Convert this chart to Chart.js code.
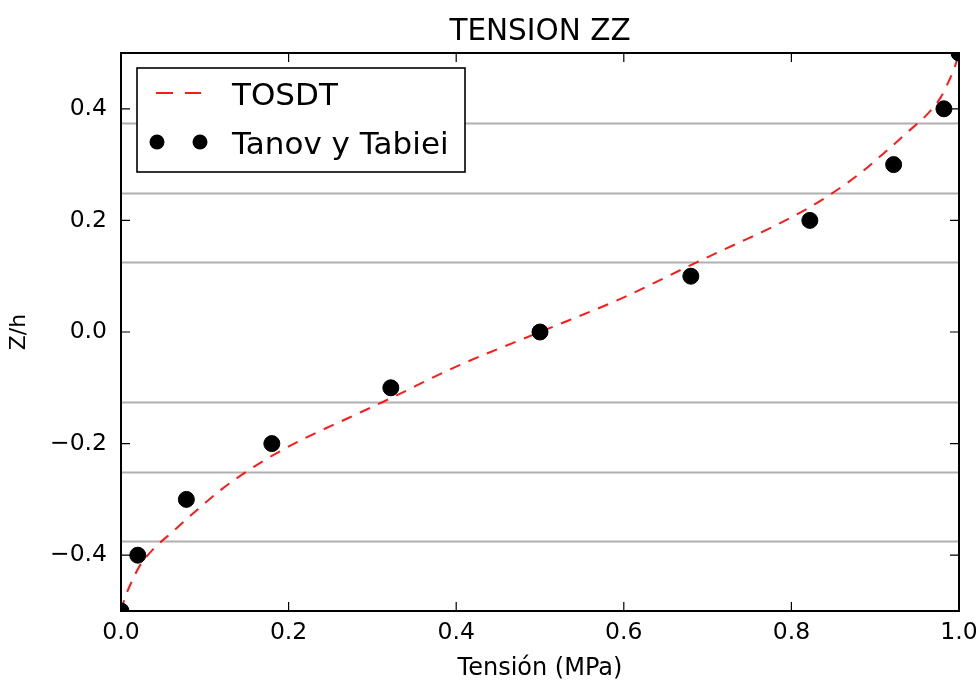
<!DOCTYPE html>
<html>
<head>
<meta charset="utf-8">
<script src="https://cdn.jsdelivr.net/npm/chart.js@4.4.1/dist/chart.umd.min.js"></script>
<style>
html,body{margin:0;padding:0;background:#fff;}
#wrap{width:976px;height:684px;position:relative;}
</style>
</head>
<body>
<div id="wrap"><canvas id="c" width="976" height="684"></canvas></div>
<script>
// ---- data ----
const tosdtX = [0.000, 0.005, 0.012, 0.022, 0.038, 0.060, 0.090, 0.120, 0.150, 0.180, 0.220, 0.270, 0.320, 0.400, 0.500, 0.600, 0.680, 0.730, 0.780, 0.820, 0.850, 0.880, 0.910, 0.940, 0.962, 0.978, 0.988, 0.995, 1.000];
const tosdtY = [-0.500, -0.475, -0.450, -0.420, -0.390, -0.360, -0.320, -0.282, -0.250, -0.222, -0.190, -0.155, -0.120, -0.062, 0.000, 0.062, 0.120, 0.155, 0.190, 0.222, 0.250, 0.282, 0.320, 0.360, 0.390, 0.420, 0.450, 0.475, 0.500];
const tanovX = [0.000, 0.020, 0.078, 0.180, 0.322, 0.500, 0.680, 0.822, 0.922, 0.982, 1.000];
const tanovY = [-0.5, -0.4, -0.3, -0.2, -0.1, 0.0, 0.1, 0.2, 0.3, 0.4, 0.5];
const layerInterfaces = [-0.375, -0.25, -0.125, 0.125, 0.25, 0.375];
const xTicks = [0.0, 0.2, 0.4, 0.6, 0.8, 1.0];
const yTicks = [-0.4, -0.2, 0.0, 0.2, 0.4];
const seriesNames = ['TOSDT', 'Tanov y Tabiei'];
const titleText = 'TENSION ZZ';
const xLabel = 'Tensión (MPa)';
const yLabel = 'Z/h';

const FONT = 'DejaVu Sans';
const fmt = v => (v < 0 ? '\u2212' : '') + Math.abs(v).toFixed(1);

const framePlugin = {
  id: 'frame',
  beforeDatasetsDraw(chart) {
    const {ctx, chartArea: a, scales: {x, y}} = chart;
    ctx.save();
    ctx.strokeStyle = '#b0b0b0';
    ctx.lineWidth = 2;
    layerInterfaces.forEach(v => {
      const py = Math.round(y.getPixelForValue(v)) + 0.5;
      ctx.beginPath(); ctx.moveTo(a.left, py); ctx.lineTo(a.right, py); ctx.stroke();
    });
    ctx.restore();
  },
  afterDatasetsDraw(chart) {
    const {ctx, chartArea: a, scales: {x, y}} = chart;
    ctx.save();
    ctx.strokeStyle = '#000';
    ctx.lineWidth = 1.2;
    const tl = 9;
    xTicks.forEach(v => {
      const px = x.getPixelForValue(v);
      ctx.beginPath();
      ctx.moveTo(px, a.bottom); ctx.lineTo(px, a.bottom - tl);
      ctx.moveTo(px, a.top); ctx.lineTo(px, a.top + tl);
      ctx.stroke();
    });
    yTicks.forEach(v => {
      const py = y.getPixelForValue(v);
      ctx.beginPath();
      ctx.moveTo(a.left, py); ctx.lineTo(a.left + tl, py);
      ctx.moveTo(a.right, py); ctx.lineTo(a.right - tl, py);
      ctx.stroke();
    });
    ctx.lineWidth = 2;
    ctx.strokeRect(a.left, a.top, a.right - a.left, a.bottom - a.top);

    // title centred over the plot area
    ctx.fillStyle = '#000';
    ctx.font = '29.5px "' + FONT + '"';
    ctx.textAlign = 'center';
    ctx.textBaseline = 'alphabetic';
    ctx.fillText(titleText, (a.left + a.right) / 2, 40);

    // legend
    const lx = a.left + 16, ly = a.top + 15, lw = 328, lh = 104;
    ctx.fillStyle = '#fff';
    ctx.fillRect(lx, ly, lw, lh);
    ctx.lineWidth = 1.6;
    ctx.strokeStyle = '#000';
    ctx.strokeRect(lx, ly, lw, lh);
    const r1 = ly + 25, r2 = ly + 74;
    ctx.strokeStyle = 'rgba(255,0,0,0.9)';
    ctx.lineWidth = 2;
    ctx.beginPath();
    ctx.moveTo(lx + 19, r1); ctx.lineTo(lx + 36, r1);
    ctx.moveTo(lx + 48, r1); ctx.lineTo(lx + 64, r1);
    ctx.stroke();
    ctx.fillStyle = '#000';
    [lx + 20, lx + 63].forEach(cx => { ctx.beginPath(); ctx.arc(cx, r2, 7.5, 0, Math.PI * 2); ctx.fill(); });
    ctx.font = '31px "' + FONT + '"';
    ctx.textBaseline = 'alphabetic';
    ctx.textAlign = 'left';
    ctx.fillText(seriesNames[0], lx + 95, r1 + 12);
    ctx.fillText(seriesNames[1], lx + 95, r2 + 12);
    ctx.restore();
  }
};

const chart = new Chart(document.getElementById('c'), {
  type: 'scatter',
  data: {
    datasets: [
      {
        label: seriesNames[0],
        data: tosdtX.map((v, i) => ({x: v, y: tosdtY[i]})),
        showLine: true,
        borderColor: 'rgba(255,0,0,0.9)',
        borderWidth: 2,
        borderDash: [11, 9],
        pointRadius: 0,
        cubicInterpolationMode: 'monotone',
        clip: 0,
        order: 2
      },
      {
        label: seriesNames[1],
        data: tanovX.map((v, i) => ({x: v, y: tanovY[i]})),
        showLine: false,
        backgroundColor: '#000',
        borderColor: '#000',
        pointRadius: 8,
        pointHoverRadius: 8,
        clip: 0,
        order: 1
      }
    ]
  },
  options: {
    responsive: false,
    animation: false,
    events: [],
    layout: {padding: {left: 0, right: 17, top: 53, bottom: 0}},
    plugins: {
      legend: {display: false},
      tooltip: {enabled: false},
      title: {display: false}
    },
    scales: {
      x: {
        type: 'linear',
        min: 0, max: 1,
        afterBuildTicks: s => { s.ticks = xTicks.map(v => ({value: v})); },
        afterFit: s => { s.height = 73; s.paddingLeft = 0; s.paddingRight = 0; },
        grid: {display: false, drawTicks: false},
        border: {display: false},
        ticks: {color: '#000', font: {family: FONT, size: 23.5}, padding: 8, maxRotation: 0, callback: v => fmt(v)},
        title: {display: true, text: xLabel, color: '#000', font: {family: FONT, size: 24}, padding: {top: 0, bottom: 1}}
      },
      y: {
        type: 'linear',
        min: -0.5, max: 0.5,
        afterBuildTicks: s => { s.ticks = yTicks.map(v => ({value: v})); },
        afterFit: s => { s.width = 121; s.paddingTop = 0; s.paddingBottom = 0; },
        grid: {display: false, drawTicks: false},
        border: {display: false},
        ticks: {color: '#000', font: {family: FONT, size: 23.5}, padding: 14, callback: v => fmt(v)},
        title: {display: true, text: yLabel, color: '#000', font: {family: FONT, size: 22}, padding: {top: 6, bottom: 0}}
      }
    }
  },
  plugins: [framePlugin]
});
</script>
</body>
</html>
